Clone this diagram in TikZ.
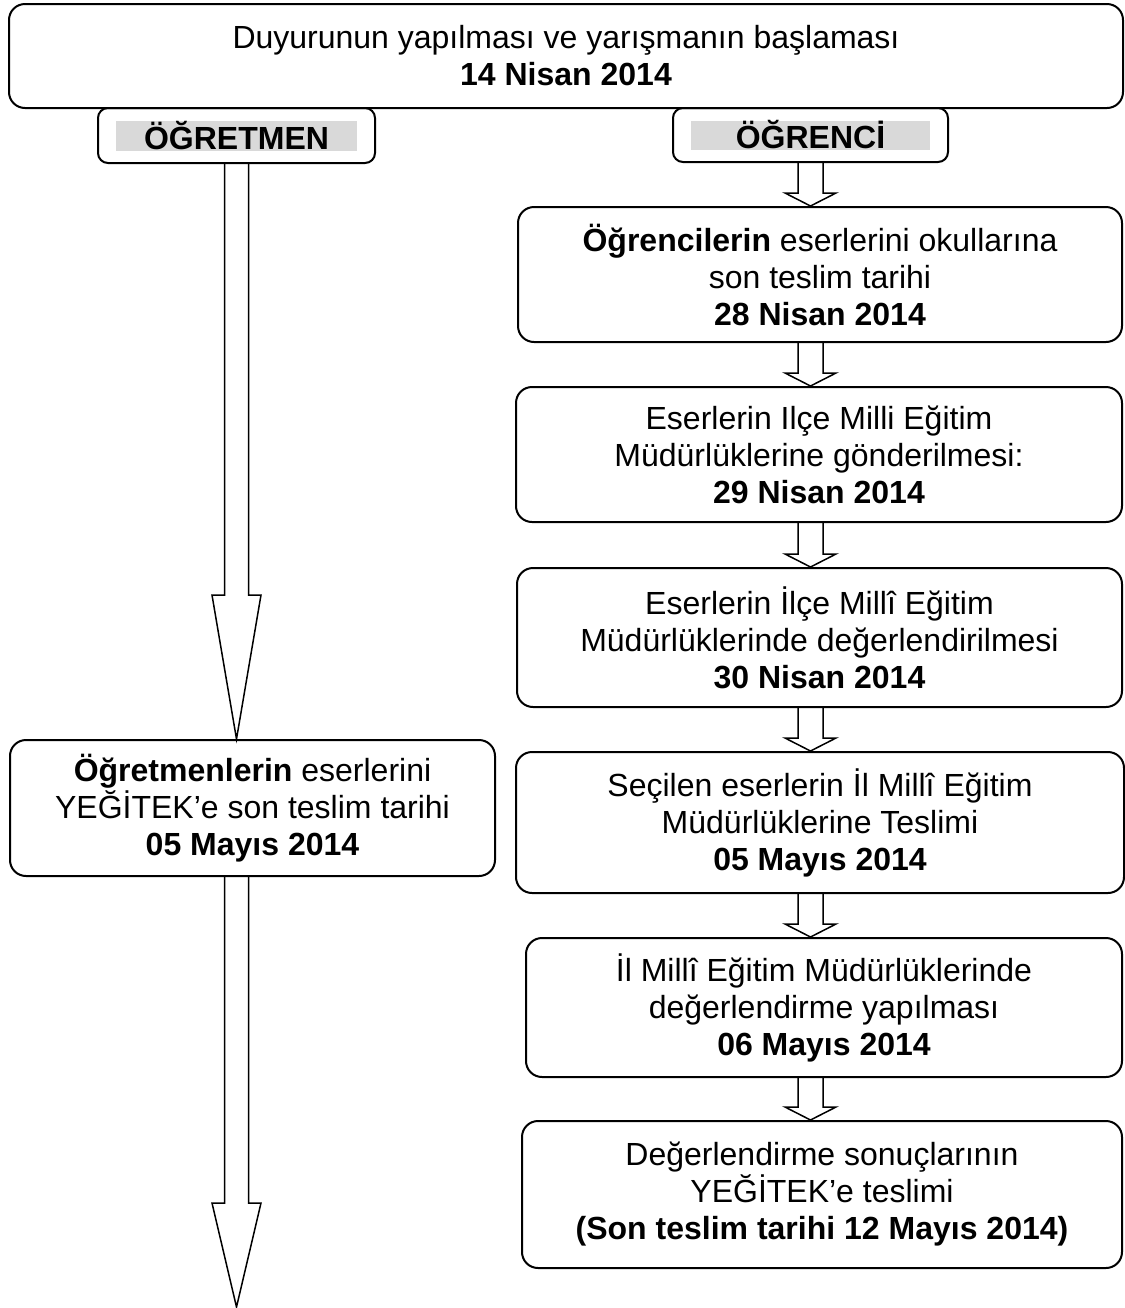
\documentclass[tikz,border=0pt]{standalone}
\usepackage{fontspec}
\setmainfont{Liberation Sans}
\usetikzlibrary{calc}

\definecolor{tabgray}{HTML}{D9D9D9}

% block arrow: x reference, start, tip, shaft half width, head half width, head length
\newcommand{\blockarrow}[6]{%
  \draw[flowarrow] let \p1=(#1), \p2=(#2), \p3=(#3) in
    (\x1-#4,\y2) -- (\x1-#4,\y3+#6) -- (\x1-#5,\y3+#6) -- (\x1,\y3)
    -- (\x1+#5,\y3+#6) -- (\x1+#4,\y3+#6) -- (\x1+#4,\y2);}

\begin{document}
\begin{tikzpicture}[
    x=0.5pt, y=-0.5pt,
    dims/.style 2 args={minimum width=#1*0.5pt, minimum height=#2*0.5pt},
    stepbox/.style={draw, line width=1pt, rounded corners=8pt, align=center,
      inner sep=0pt, font=\fontsize{16pt}{18.5pt}\selectfont},
    tabbox/.style={draw, line width=1pt, rounded corners=5pt, inner sep=0pt,
      font=\fontsize{16pt}{18.5pt}\selectfont\bfseries,
      path picture={\fill[tabgray, sharp corners]
        ([shift={(9pt,-6.5pt)}]path picture bounding box.north west) rectangle
        ([shift={(-9pt,6pt)}]path picture bounding box.south east);}},
    flowarrow/.style={line width=0.75pt, line join=miter}
  ]
  \useasboundingbox (0,0) rectangle (1125,1308);

  \node[stepbox, dims={1114}{104}] (start) at (566,56)
    {Duyurunun yapılması ve yarışmanın başlaması\\\textbf{14 Nisan 2014}};
  \node[tabbox, dims={277}{55}] (tabL) at (236.5,135.5) {ÖĞRETMEN};
  \node[tabbox, dims={275}{54}] (tabR) at (810.5,135) {ÖĞRENCİ};

  % teacher side
  \node[stepbox, dims={485}{136}] (lbox) at (252.5,808)
    {\textbf{Öğretmenlerin} eserlerini\\YEĞİTEK’e son teslim tarihi\\\textbf{05 Mayıs 2014}};
  \coordinate (ltip) at (237,1307);

  % student side
  \node[stepbox, dims={604}{135}] (b1) at (820,274.5)
    {\textbf{Öğrencilerin} eserlerini okullarına\\son teslim tarihi\\\textbf{28 Nisan 2014}};
  \node[stepbox, dims={606}{135}] (b2) at (819,454.5)
    {Eserlerin Ilçe Milli Eğitim\\Müdürlüklerine gönderilmesi:\\\textbf{29 Nisan 2014}};
  \node[stepbox, dims={605}{139}] (b3) at (819.5,637.5)
    {Eserlerin İlçe Millî Eğitim\\Müdürlüklerinde değerlendirilmesi\\\textbf{30 Nisan 2014}};
  \node[stepbox, dims={608}{141}] (b4) at (820,822.5)
    {Seçilen eserlerin İl Millî Eğitim\\Müdürlüklerine Teslimi\\\textbf{05 Mayıs 2014}};
  \node[stepbox, dims={596}{139}] (b5) at (824,1007.5)
    {İl Millî Eğitim Müdürlüklerinde\\değerlendirme yapılması\\\textbf{06 Mayıs 2014}};
  \node[stepbox, dims={600}{147}] (b6) at (822,1194.5)
    {Değerlendirme sonuçlarının\\YEĞİTEK’e teslimi\\\textbf{(Son teslim tarihi 12 Mayıs 2014)}};

  % arrows
  \blockarrow{tabL.south}{tabL.south}{lbox.north}{6pt}{12.25pt}{72pt}
  \blockarrow{tabL.south}{lbox.south}{ltip}{6pt}{12.25pt}{52pt}
  \foreach \a/\b in {tabR/b1, b1/b2, b2/b3, b3/b4, b4/b5, b5/b6}{
    \blockarrow{tabR.south}{\a.south}{\b.north}{6.25pt}{12.75pt}{6.5pt}
  }
\end{tikzpicture}
\end{document}
